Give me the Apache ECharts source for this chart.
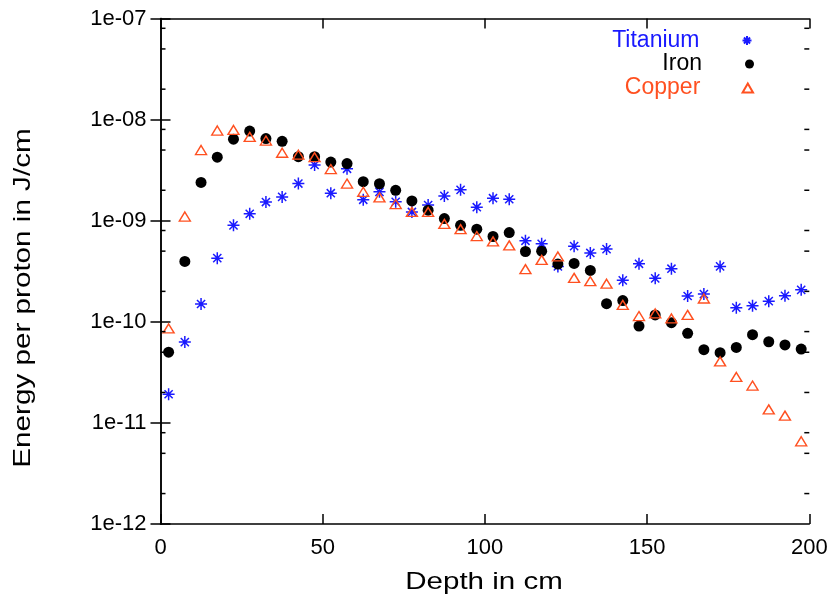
<!DOCTYPE html>
<html>
<head>
<meta charset="utf-8">
<script src="https://cdn.jsdelivr.net/npm/echarts@6/dist/echarts.min.js"></script>
<style>
html,body{margin:0;padding:0;background:#fff;}
#chart{width:832px;height:601px;}
</style>
</head>
<body>
<div id="chart"></div>
<script>
const depth = [2.5, 7.5, 12.5, 17.5, 22.5, 27.5, 32.5, 37.5, 42.5, 47.5,
  52.5, 57.5, 62.5, 67.5, 72.5, 77.5, 82.5, 87.5, 92.5, 97.5,
  102.5, 107.5, 112.5, 117.5, 122.5, 127.5, 132.5, 137.5, 142.5, 147.5,
  152.5, 157.5, 162.5, 167.5, 172.5, 177.5, 182.5, 187.5, 192.5, 197.5];

const titanium = [1.92e-11, 6.3e-11, 1.5e-10, 4.26e-10, 9.0e-10, 1.17e-9, 1.53e-9, 1.72e-9, 2.33e-9, 3.56e-9,
  1.87e-9, 3.26e-9, 1.61e-9, 1.93e-9, 1.54e-9, 1.22e-9, 1.43e-9, 1.76e-9, 2.02e-9, 1.36e-9,
  1.67e-9, 1.63e-9, 6.33e-10, 5.91e-10, 3.53e-10, 5.6e-10, 4.8e-10, 5.24e-10, 2.57e-10, 3.75e-10,
  2.69e-10, 3.35e-10, 1.8e-10, 1.88e-10, 3.53e-10, 1.38e-10, 1.44e-10, 1.6e-10, 1.81e-10, 2.07e-10];

const iron = [5.0e-11, 3.95e-10, 2.39e-9, 4.25e-9, 6.4e-9, 7.7e-9, 6.5e-9, 6.1e-9, 4.3e-9, 4.3e-9,
  3.8e-9, 3.67e-9, 2.43e-9, 2.32e-9, 2.0e-9, 1.57e-9, 1.27e-9, 1.05e-9, 9.0e-10, 8.25e-10,
  6.98e-10, 7.64e-10, 4.96e-10, 5.0e-10, 3.72e-10, 3.78e-10, 3.22e-10, 1.51e-10, 1.62e-10, 9.08e-11,
  1.17e-10, 9.8e-11, 7.7e-11, 5.3e-11, 4.95e-11, 5.58e-11, 7.45e-11, 6.35e-11, 5.9e-11, 5.38e-11];

const copper = [8.6e-11, 1.1e-9, 5.0e-9, 7.8e-9, 7.9e-9, 6.75e-9, 6.2e-9, 4.7e-9, 4.5e-9, 4.25e-9,
  3.24e-9, 2.33e-9, 1.93e-9, 1.7e-9, 1.46e-9, 1.22e-9, 1.22e-9, 9.3e-10, 8.25e-10, 7.05e-10,
  6.24e-10, 5.7e-10, 3.32e-10, 4.1e-10, 4.43e-10, 2.72e-10, 2.52e-10, 2.38e-10, 1.47e-10, 1.14e-10,
  1.21e-10, 1.08e-10, 1.17e-10, 1.7e-10, 4.06e-11, 2.85e-11, 2.34e-11, 1.36e-11, 1.18e-11, 6.58e-12];

const xTicks = [0, 50, 100, 150, 200];
const yMajor = [1e-12, 1e-11, 1e-10, 1e-9, 1e-8, 1e-7];
const yMinor = [2e-12, 5e-12, 8e-12, 2e-11, 5e-11, 8e-11, 2e-10, 5e-10, 8e-10,
  2e-9, 5e-9, 8e-9, 2e-8, 5e-8, 8e-8];

const seriesNames = ['Titanium', 'Iron', 'Copper'];
const seriesColors = ['#1a1aff', '#000000', '#ff5020'];

const FONT = '"Liberation Sans", Arial, Helvetica, sans-serif';
const STAR = 'path://M0 5L10 5M5 0L5 10M1.6 1.6L8.4 8.4M8.4 1.6L1.6 8.4';
const TRI = 'path://M5 0L10 8.66L0 8.66Z';

function pairs(ys) { return depth.map((x, i) => [x, ys[i]]); }
function expLabel(v) {
  const e = Math.round(Math.log10(v));
  const a = Math.abs(e);
  return '1e' + (e < 0 ? '-' : '+') + (a < 10 ? '0' + a : '' + a);
}

const lineStyle = { color: '#000', width: 1.5 };

function yMajorAxis(pos, labels) {
  return {
    type: 'log', logBase: 10, min: yMajor[0], max: yMajor[yMajor.length - 1], position: pos,
    axisLine: { show: true, lineStyle: lineStyle },
    axisTick: { show: true, inside: true, length: 10, lineStyle: lineStyle },
    axisLabel: labels ? { show: true, formatter: expLabel, color: '#000', fontSize: 22, fontFamily: FONT, margin: 14 } : { show: false },
    splitLine: { show: false }, minorTick: { show: false }
  };
}
function xAxisDef(pos, labels) {
  return {
    type: 'value', min: xTicks[0], max: xTicks[xTicks.length - 1], interval: 50, position: pos,
    axisLine: { show: true, onZero: false, lineStyle: lineStyle },
    axisTick: { show: true, inside: true, length: 10, lineStyle: lineStyle },
    axisLabel: labels ? { show: true, color: '#000', fontSize: 22, fontFamily: FONT, margin: 13 } : { show: false },
    splitLine: { show: false }
  };
}

function legendDef(idx, top) {
  return {
    data: [seriesNames[idx]], orient: 'vertical', right: 78, top: top, padding: 0,
    align: 'right', itemWidth: 85, itemHeight: 9, itemGap: 0, selectedMode: false,
    textStyle: { color: seriesColors[idx], fontSize: 23, fontFamily: FONT }
  };
}

// minor ticks at 2, 5, 8 of each decade on both vertical borders, placed through the axes
function renderMinorTick(params, api) {
  const v = api.value(0);
  const pL = api.coord([xTicks[0], v]);
  const pR = api.coord([xTicks[xTicks.length - 1], v]);
  const st = { stroke: '#000', lineWidth: 1.5 };
  return {
    type: 'group',
    children: [
      { type: 'line', shape: { x1: pL[0], y1: pL[1], x2: pL[0] + 5, y2: pL[1] }, style: st },
      { type: 'line', shape: { x1: pR[0] - 5, y1: pR[1], x2: pR[0], y2: pR[1] }, style: st }
    ]
  };
}

const chart = echarts.init(document.getElementById('chart'), null, { renderer: 'canvas' });
chart.setOption({
  backgroundColor: '#fff',
  animation: false,
  grid: { left: 160.5, right: 22.7, top: 18.5, bottom: 77 },
  xAxis: [xAxisDef('bottom', true), xAxisDef('top', false)],
  yAxis: [yMajorAxis('left', true), yMajorAxis('right', false)],
  legend: [legendDef(0, 29), legendDef(1, 52.5), legendDef(2, 76.5)],
  series: [
    {
      type: 'custom', name: 'minorTicks', data: yMinor.map(v => [v]),
      encode: { y: 0 }, renderItem: renderMinorTick, clip: false, silent: true, z: 3
    },
    {
      name: seriesNames[0], type: 'scatter', data: pairs(titanium),
      symbol: STAR, symbolSize: 12,
      itemStyle: { color: 'none', borderColor: seriesColors[0], borderWidth: 1.5, opacity: 1 }
    },
    {
      name: seriesNames[1], type: 'scatter', data: pairs(iron),
      symbol: 'circle', symbolSize: 11,
      itemStyle: { color: seriesColors[1], opacity: 1 }
    },
    {
      name: seriesNames[2], type: 'scatter', data: pairs(copper),
      symbol: TRI, symbolSize: [11, 9],
      itemStyle: { color: 'rgba(255,255,255,0)', borderColor: seriesColors[2], borderWidth: 1.4, opacity: 1 }
    }
  ],
  graphic: [
    {
      type: 'text', x: 484, y: 582, scaleX: 1.23,
      style: { text: 'Depth in cm', fontSize: 24, fontFamily: FONT, fill: '#000', align: 'center', verticalAlign: 'middle' }
    },
    {
      type: 'text', x: 23, y: 298, rotation: Math.PI / 2, scaleX: 1.235,
      style: { text: 'Energy per proton in J/cm', fontSize: 24, fontFamily: FONT, fill: '#000', align: 'center', verticalAlign: 'middle' }
    }
  ]
});
</script>
</body>
</html>
